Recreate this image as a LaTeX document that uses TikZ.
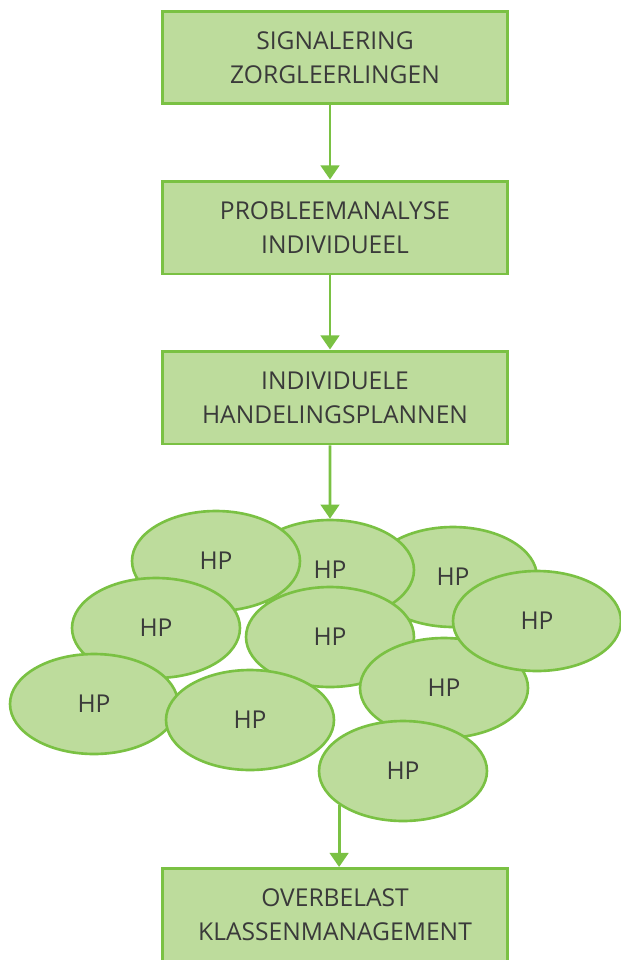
\documentclass[tikz,border=0pt]{standalone}
\usepackage{fontspec}
\setmainfont{Open Sans}
\usepackage{xcolor}
\usetikzlibrary{
    shapes.geometric,
    arrows.meta,
    positioning,
    calc
}
\definecolor{stepgreen}{RGB}{189, 220, 156}
\definecolor{edgegreen}{RGB}{122, 193, 67}
\definecolor{textgray}{RGB}{58, 58, 58}

\begin{document}
\begin{tikzpicture}[
        x=0.02cm, y=-0.02cm,
        block/.style={draw=edgegreen, fill=stepgreen, line width=1.7pt, minimum width=6.9cm, minimum height=1.86cm, align=center, text=textgray, font=\fontsize{14}{19.3}\selectfont, inner sep=0pt},
        hp/.style={ellipse, draw=edgegreen, fill=stepgreen, line width=1.5pt, minimum width=3.36cm, minimum height=2.0cm, inner sep=0pt, text=textgray, font=\fontsize{14}{17}\selectfont},
        arrow/.style={-{Triangle[width=10.5pt, length=8pt]}, draw=edgegreen, line width=1.7pt}
    ]
        \useasboundingbox (0,0) rectangle (621,960);

        % Steps
        \node[block] (signal) at (335, 57.5) {SIGNALERING\\ZORGLEERLINGEN};

        \node[block] (analyse) at (335, 227.5) {PROBLEEMANALYSE\\INDIVIDUEEL};

        \node[block] (plans) at (335, 397.5) {INDIVIDUELE\\HANDELINGSPLANNEN};

        % Cloud of HP
        \node[hp] (hp3) at (453, 577) {HP};
        \node[hp] (hp2) at (330, 570) {HP};
        \node[hp] (hp1) at (216, 561) {HP};
        \node[hp] (hp5) at (156, 628) {HP};
        \node[hp] (hp6) at (330, 637) {HP};
        \node[hp] (hp7) at (444, 688) {HP};
        \node[hp] (hp4) at (537, 621) {HP};
        \node[hp] (hp8) at (94, 704) {HP};
        \node[hp] (hp9) at (250, 720) {HP};
        \node[hp] (hp10) at (403, 771) {HP};

        % Result
        \node[block] (overload) at (335, 915) {OVERBELAST\\KLASSENMANAGEMENT};

        % Arrows
        \draw[arrow] ([xshift=-0.1cm]signal.south) -- ([xshift=-0.1cm]analyse.north);
        \draw[arrow] ([xshift=-0.1cm]analyse.south) -- ([xshift=-0.1cm]plans.north);
        \draw[arrow] ([xshift=-0.1cm]plans.south) -- (hp2);
        \draw[arrow] (hp10.208.5) -- (hp10.208.5 |- overload.north);
    \end{tikzpicture}
\end{document}
